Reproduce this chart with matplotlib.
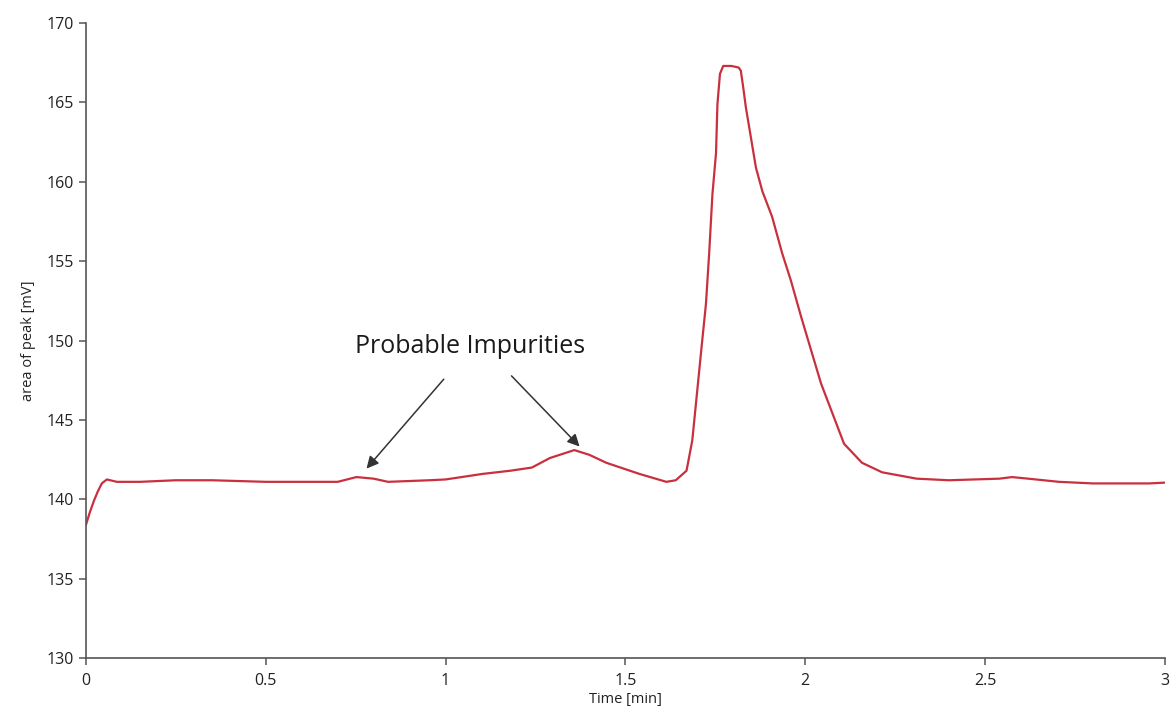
import matplotlib.pyplot as plt

# chromatogram trace
time_min = [0.0, 0.011, 0.022, 0.033, 0.044, 0.058, 0.086, 0.15, 0.25, 0.35, 0.5, 0.6, 0.70,
            0.752, 0.80, 0.84, 0.955, 1.0, 1.103, 1.18, 1.24, 1.29, 1.358, 1.40, 1.447,
            1.539, 1.614, 1.64, 1.67, 1.686, 1.697, 1.711, 1.724, 1.733, 1.742, 1.752,
            1.756, 1.763, 1.772, 1.795, 1.815, 1.821, 1.828, 1.835, 1.849, 1.863, 1.881,
            1.908, 1.936, 1.96, 1.99, 2.044, 2.108, 2.158, 2.214, 2.31,
            2.40, 2.54, 2.575, 2.62, 2.706, 2.80, 2.956, 3.0]
signal_mv = [138.4, 139.2, 139.9, 140.5, 141.0, 141.25, 141.1, 141.1, 141.2, 141.2, 141.1, 141.1, 141.1,
             141.4, 141.3, 141.1, 141.2, 141.25, 141.6, 141.8, 142.0, 142.6, 143.1, 142.8, 142.3,
             141.6, 141.1, 141.2, 141.8, 143.7, 146.2, 149.4, 152.3, 155.5, 159.2, 161.8,
             164.9, 166.8, 167.3, 167.3, 167.2, 167.0, 165.9, 164.7, 162.8, 160.9, 159.4,
             157.8, 155.5, 153.8, 151.4, 147.3, 143.5, 142.3, 141.7, 141.3,
             141.2, 141.3, 141.4, 141.3, 141.1, 141.0, 141.0, 141.05]

plt.rcParams['font.family'] = ['Open Sans', 'DejaVu Sans']

fig = plt.figure(figsize=(11.73, 7.22), dpi=100)
ax = fig.add_axes([0.0733, 0.0886, 0.9197, 0.8794])

ax.plot(time_min, signal_mv, color="#c9303e", linewidth=1.6)

ax.set_xlim(0, 3)
ax.set_ylim(130, 170)
ax.set_xticks([0, 0.5, 1, 1.5, 2, 2.5, 3])
ax.set_xticklabels(["0", "0.5", "1", "1.5", "2", "2.5", "3"])
ax.set_yticks(range(130, 171, 5))

for side in ["top", "right"]:
    ax.spines[side].set_visible(False)
for side in ["left", "bottom"]:
    ax.spines[side].set_color("#555555")
    ax.spines[side].set_linewidth(1.2)
ax.tick_params(axis="both", colors="#555555", labelcolor="#222222", labelsize=11.5,
               length=5, width=1.1)
ax.tick_params(axis="x", pad=6)

ax.set_xlabel("Time [min]", fontsize=10.5, color="#222222", labelpad=2)
ax.set_ylabel("area of peak [mV]", fontsize=10.5, color="#222222", labelpad=8)

# annotation with two arrows
ax.text(1.069, 149.6, "Probable Impurities", fontsize=18, color="#1a1a1a",
        ha="center", va="center")
arrow = dict(arrowstyle="-|>", color="#333333", lw=1.1, mutation_scale=18)
ax.annotate("", xy=(0.775, 141.8), xytext=(1.0, 147.7), arrowprops=arrow)
ax.annotate("", xy=(1.378, 143.2), xytext=(1.178, 147.9), arrowprops=arrow)

fig.savefig("out.png", dpi=100)
